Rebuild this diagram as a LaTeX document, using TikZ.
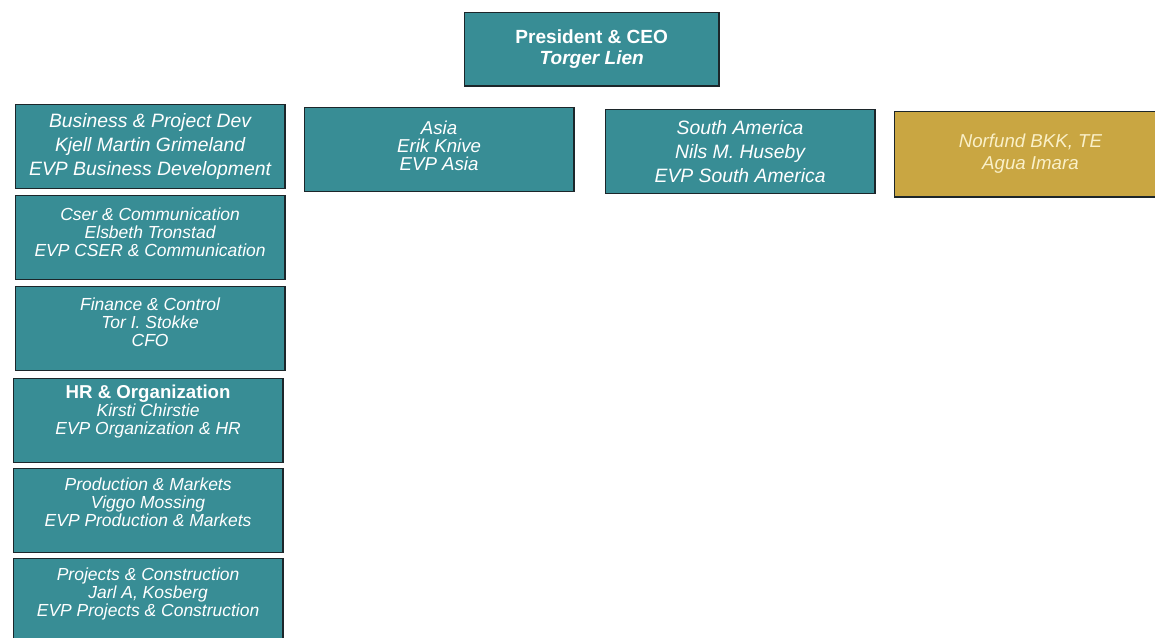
\documentclass[tikz,border=0pt]{standalone}
\usepackage{fontspec}
\setsansfont{Liberation Sans}
\definecolor{unitteal}{RGB}{56,141,149}
\definecolor{partnergold}{RGB}{201,166,66}
\definecolor{boxedge}{RGB}{28,38,42}
\definecolor{partnertext}{RGB}{250,240,200}
\tikzset{
  orgbox/.style={draw=boxedge, line width=1.4pt, fill=unitteal, text=white,
    anchor=north west, align=center, inner sep=0pt,
    minimum width=202pt, minimum height=63pt,
    font=\sffamily\itshape\fontsize{13.1}{13.5}\selectfont},
  widebox/.style={orgbox, font=\sffamily\itshape\fontsize{14.5}{18}\selectfont},
  partnerbox/.style={orgbox, fill=partnergold, text=partnertext,
    font=\sffamily\itshape\fontsize{14}{16.5}\selectfont}
}
\begin{document}
\begin{tikzpicture}[x=0.75pt, y=-0.75pt]
        \useasboundingbox (0,0) rectangle (1155,637);
        % Top of the chart
        \node[orgbox, minimum width=191pt, minimum height=55pt,
              font=\sffamily\bfseries\fontsize{14.3}{16}\selectfont] (ceo) at (463.5,11.5)
              {President \& CEO\\\itshape Torger Lien};

        % Staff units, left column (trailing \\[..] lifts the text a little)
        \node[widebox] (busdev) at (14.5,103.5) {Business \& Project Dev\\Kjell Martin Grimeland\\EVP Business Development};
        \node[orgbox] (cser) at (14.5,194.5) {Cser \& Communication\\Elsbeth Tronstad\\EVP CSER \& Communication\\[-6pt]};
        \node[orgbox] (finance) at (14.5,285.5) {Finance \& Control\\Tor I. Stokke\\CFO\\[-4.5pt]};
        \node[orgbox] (hr) at (12.5,377.5) {{\upshape\bfseries\fontsize{14}{13.5}\selectfont HR \& Organization}\\Kirsti Chirstie\\EVP Organization \& HR\\[2.5pt]};
        \node[orgbox] (prodmkt) at (12.5,467.5) {Production \& Markets\\Viggo Mossing\\EVP Production \& Markets\\[-1pt]};
        \node[orgbox, minimum height=66pt] (projcon) at (12.5,557.5) {Projects \& Construction\\Jarl A, Kosberg\\EVP Projects \& Construction\\[2.5pt]};

        % Regions
        \node[orgbox, font=\sffamily\itshape\fontsize{14}{13.5}\selectfont] (asia) at (303.5,106.5) {Asia\\Erik Knive\\EVP Asia\\[-8pt]};
        \node[widebox] (southam) at (604.5,108.5) {South America\\Nils M. Huseby\\EVP South America};

        % Partner
        \node[partnerbox, minimum width=204pt, minimum height=64pt] (norfund) at (893.5,110.5) {Norfund BKK, TE\\Agua Imara\\[-12.5pt]};
\end{tikzpicture}
\end{document}
